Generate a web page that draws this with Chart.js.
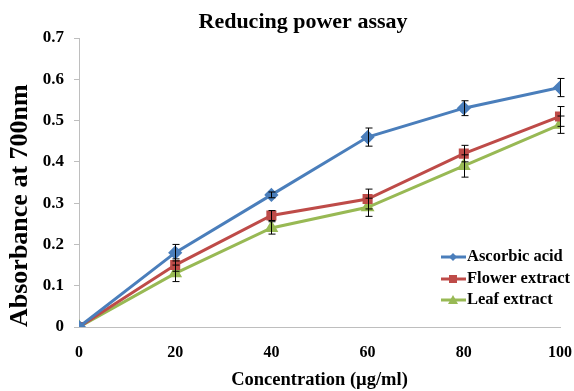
<!DOCTYPE html>
<html>
<head>
<meta charset="utf-8">
<script src="https://cdn.jsdelivr.net/npm/chart.js@4"></script>
<style>
  body { margin: 0; background: #fff; }
  #wrap { width: 574px; height: 391px; }
</style>
</head>
<body>
<div id="wrap"><canvas id="myChart" width="574" height="391"></canvas></div>
<script>
// VALORES
const concentrations = [0, 20, 40, 60, 80, 100];
const ascorbic = [0, 0.18, 0.32, 0.46, 0.53, 0.58];
const ascorbicErr = [0, 0.02, 0.007, 0.022, 0.018, 0.022];
const flower = [0, 0.15, 0.27, 0.31, 0.42, 0.51];
const flowerErr = [0, 0.015, 0.012, 0.024, 0.02, 0.024];
const leaf = [0, 0.13, 0.24, 0.29, 0.39, 0.49];
const leafErr = [0, 0.02, 0.015, 0.022, 0.027, 0.021];
const seriesNames = ["Ascorbic acid", "Flower extract", "Leaf extract"];
const chartTitle = "Reducing power assay";

const FONT = "'Liberation Serif', 'Times New Roman', serif";

// title (placed like the original, not centred on the canvas)
const titlePlugin = {
  id: "titlePlugin",
  afterDraw(chart) {
    const { ctx } = chart;
    ctx.save();
    ctx.font = "bold 22px " + FONT;
    ctx.fillStyle = "#000";
    ctx.textAlign = "center";
    ctx.textBaseline = "middle";
    ctx.fillText(chartTitle, 303, 22);
    ctx.restore();
  },
};

// error bars
const errorBars = {
  id: "errorBars",
  afterDatasetsDraw(chart) {
    const { ctx, scales: { x, y } } = chart;
    ctx.save();
    ctx.strokeStyle = "#000";
    ctx.lineWidth = 1;
    chart.data.datasets.forEach((ds) => {
      ds.data.forEach((p, i) => {
        const e = ds.errors[i];
        if (!e) return;
        const px = Math.round(x.getPixelForValue(p.x)) + 0.5;
        const top = y.getPixelForValue(p.y + e);
        const bot = y.getPixelForValue(p.y - e);
        ctx.beginPath();
        ctx.moveTo(px, top);
        ctx.lineTo(px, bot);
        ctx.moveTo(px - 3, top);
        ctx.lineTo(px + 4, top);
        ctx.moveTo(px - 3, bot);
        ctx.lineTo(px + 4, bot);
        ctx.stroke();
      });
    });
    ctx.restore();
  },
};

// legend inside the plot
const innerLegend = {
  id: "innerLegend",
  afterDraw(chart) {
    const { ctx } = chart;
    ctx.save();
    ctx.font = "bold 16.5px " + FONT;
    ctx.textBaseline = "middle";
    const rows = [257, 279, 300];
    chart.data.datasets.forEach((ds, i) => {
      const yy = rows[i];
      ctx.strokeStyle = ds.borderColor;
      ctx.lineWidth = 3;
      ctx.beginPath();
      ctx.moveTo(441, yy);
      ctx.lineTo(466, yy);
      ctx.stroke();
      ctx.fillStyle = ds.backgroundColor;
      ctx.beginPath();
      if (ds.pointStyle === "rectRot") {
        ctx.moveTo(453, yy - 4); ctx.lineTo(457, yy); ctx.lineTo(453, yy + 4); ctx.lineTo(449, yy);
      } else if (ds.pointStyle === "rect") {
        ctx.rect(449, yy - 4, 8, 8);
      } else {
        ctx.moveTo(453, yy - 5); ctx.lineTo(458, yy + 4); ctx.lineTo(448, yy + 4);
      }
      ctx.closePath();
      ctx.fill();
      ctx.fillStyle = "#000";
      ctx.fillText(seriesNames[i], 467, yy);
    });
    ctx.restore();
  },
};

function pts(vals) {
  return concentrations.map((c, i) => ({ x: c, y: vals[i] }));
}

const CHART = document.getElementById("myChart");

let lineChart = new Chart(CHART, {
  type: "line",
  data: {
    datasets: [
      {
        label: seriesNames[0],
        data: pts(ascorbic),
        errors: ascorbicErr,
        borderColor: "#4A7EBB",
        backgroundColor: "#4A7EBB",
        pointStyle: "rectRot",
        pointRadius: 5,
        borderWidth: 3,
        tension: 0,
      },
      {
        label: seriesNames[1],
        data: pts(flower),
        errors: flowerErr,
        borderColor: "#BE4B48",
        backgroundColor: "#BE4B48",
        pointStyle: "rect",
        pointRadius: 5,
        borderWidth: 3,
        tension: 0,
      },
      {
        label: seriesNames[2],
        data: pts(leaf),
        errors: leafErr,
        borderColor: "#98B954",
        backgroundColor: "#98B954",
        pointStyle: "triangle",
        pointRadius: 5,
        borderWidth: 3,
        tension: 0,
      },
    ],
  },
  options: {
    responsive: false,
    animation: false,
    layout: { padding: { left: 0, right: 0, top: 38, bottom: 0 } },
    plugins: {
      legend: { display: false },
      tooltip: { enabled: false },
      title: { display: false },
    },
    scales: {
      x: {
        type: "linear",
        min: 0,
        max: 100,
        afterFit(s) { s.height = 64; },
        ticks: {
          stepSize: 20,
          color: "#000",
          padding: 2,
          font: { family: FONT, size: 16, weight: "bold" },
        },
        grid: { display: true, drawOnChartArea: false, drawTicks: true, tickLength: 14, color: "rgba(0,0,0,0)" },
        border: { color: "#BEBEBE" },
        title: {
          display: true,
          text: "Concentration (µg/ml)",
          color: "#000",
          font: { family: FONT, size: 18.5, weight: "bold" },
          padding: { top: 0, bottom: 0 },
        },
      },
      y: {
        min: 0,
        max: 0.7,
        afterFit(s) { s.width = 79; },
        ticks: {
          stepSize: 0.1,
          color: "#000",
          padding: 10,
          font: { family: FONT, size: 17, weight: "bold" },
        },
        grid: { display: true, drawOnChartArea: false, tickLength: 5, color: "#BEBEBE" },
        border: { color: "#BEBEBE" },
        title: {
          display: true,
          text: "Absorbance at 700nm",
          align: "start",
          color: "#000",
          font: { family: FONT, size: 26, weight: "bold" },
          padding: { top: 5, bottom: 0 },
        },
      },
    },
  },
  plugins: [errorBars, innerLegend, titlePlugin],
});
</script>
</body>
</html>
